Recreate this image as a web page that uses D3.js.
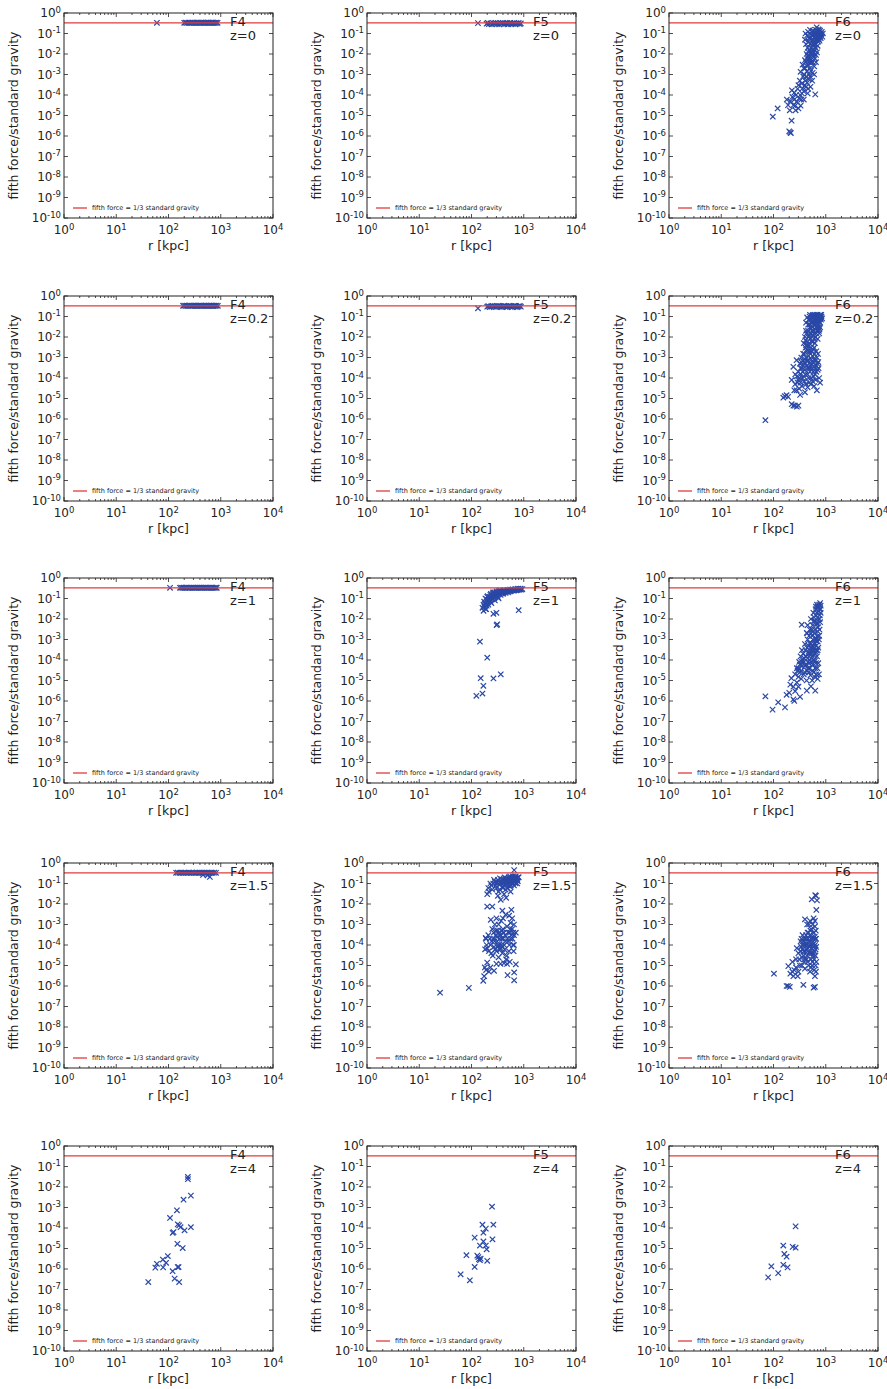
<!DOCTYPE html>
<html>
<head>
<meta charset="utf-8">
<script src="https://cdn.jsdelivr.net/npm/d3@7/dist/d3.min.js"></script>
<style>
  html, body { margin: 0; padding: 0; background: #fff; }
  svg { display: block; }
  text { font-family: "DejaVu Sans", sans-serif; fill: #222; }
</style>
</head>
<body>
<svg id="chart" width="887" height="1389"></svg>
<script>
// ---------------- DATA ----------------
const models = ["F4", "F5", "F6"];
const redshifts = ["0", "0.2", "1", "1.5", "4"];
const threshold = 1 / 3;
const thresholdLabel = "fifth force = 1/3 standard gravity";
const xLabel = "r [kpc]";
const yLabel = "fifth force/standard gravity";
const xTickValues = [1, 10, 100, 1000, 10000];
const xTickExponents = ["0", "1", "2", "3", "4"];
const yTickValues = [1e-10, 1e-9, 1e-8, 1e-7, 1e-6, 1e-5, 1e-4, 1e-3, 1e-2, 1e-1, 1];
const yTickExponents = ["-10", "-9", "-8", "-7", "-6", "-5", "-4", "-3", "-2", "-1", "0"];

// [r in kpc, fifth force / standard gravity]
const F4_z0 = [[60,0.333],[200,0.333],[212,0.34],[225,0.33],[240,0.335],[255,0.333],[270,0.33],[285,0.34],[300,0.333],[315,0.335],[330,0.33],[345,0.333],[360,0.34],[380,0.333],[400,0.33],[420,0.335],[440,0.333],[460,0.34],[480,0.333],[500,0.33],[525,0.335],[550,0.333],[575,0.34],[600,0.333],[630,0.33],[660,0.335],[690,0.333],[720,0.34],[750,0.333],[790,0.33],[830,0.335],[870,0.333]];
const F5_z0 = [[133,0.32],[195,0.3],[205,0.33],[215,0.29],[230,0.31],[245,0.28],[260,0.32],[275,0.3],[290,0.33],[305,0.29],[320,0.31],[340,0.28],[360,0.32],[380,0.3],[400,0.33],[420,0.29],[440,0.31],[460,0.3],[480,0.32],[500,0.28],[525,0.31],[550,0.33],[575,0.29],[600,0.31],[630,0.3],[660,0.32],[690,0.28],[720,0.31],[760,0.3],[800,0.33],[840,0.29],[880,0.31]];
const F6_z0 = [[97,8.7e-6],[120,2.2e-5],[200,1.7e-6],[209,1.5e-6],[215,1.4e-6],[222,5.6e-6],[180,6e-5],[190,3.2e-5],[205,1.8e-5],[225,1.7e-4],[240,3.2e-5],[250,6e-5],[265,1.8e-5],[280,4.7e-5],[270,1e-4],[300,2.2e-5],[325,1e-4],[340,6e-5],[345,3.6e-4],[360,2.1e-4],[380,1.5e-4],[420,2.5e-4],[450,1.2e-4],[510,2.5e-4],[630,1.07e-4],[330,1.35e-3],[370,8e-4],[380,2e-3],[400,5e-3],[420,7.7e-4],[440,1.5e-3],[460,3e-3],[480,1e-3],[500,2e-3],[530,4e-3],[560,1.2e-3],[430,0.01],[450,0.02],[460,0.006],[470,0.04],[480,0.015],[490,0.008],[500,0.03],[510,0.06],[520,0.012],[530,0.02],[540,0.045],[550,0.08],[560,0.025],[570,0.01],[580,0.05],[590,0.1],[600,0.035],[610,0.07],[620,0.015],[630,0.12],[640,0.06],[650,0.03],[660,0.09],[670,0.2],[680,0.05],[690,0.13],[700,0.08],[710,0.04],[720,0.1],[730,0.06],[740,0.15],[750,0.09],[760,0.12],[780,0.07],[800,0.1],[520,0.005],[580,0.008],[640,0.02],[700,0.025],[760,0.045],[550,0.015],[610,0.03],[660,0.05],[720,0.07],
  [400,0.05],[410,0.1],[420,0.03],[440,0.08],[460,0.12],[480,0.06],[500,0.15],[520,0.09],[540,0.12],[560,0.14],[580,0.03],[600,0.09],[620,0.11],[650,0.15],[680,0.1],[700,0.13],[720,0.16],[740,0.05],[760,0.08],[780,0.14],[800,0.06],[820,0.09],[840,0.12],[860,0.07],[880,0.1],[450,0.008],[470,0.012],[500,0.006],[530,0.009],[560,0.004],[590,0.012],[620,0.006],[650,0.009],[680,0.012],[400,0.002],[420,0.004],[440,0.0025],[480,0.004],[520,0.0015],[600,0.0025],[650,0.004],[360,0.003],[390,0.001],[410,5e-4],[440,4e-4],[470,6e-4],[500,8e-4],[550,5e-4],[600,1e-3],[300,3e-4],[320,5e-4],[290,2e-4],[250,1.3e-4],[230,8e-5],[210,5e-5],[260,3e-5],[310,7e-5],[350,1.2e-4],[400,3e-4],[460,2e-4],[380,6e-5],[330,3e-5]];

const F4_z02 = [[190,0.333],[200,0.34],[212,0.33],[225,0.335],[240,0.333],[255,0.34],[270,0.33],[285,0.333],[300,0.335],[315,0.333],[330,0.34],[345,0.33],[360,0.333],[380,0.335],[400,0.333],[420,0.34],[440,0.33],[460,0.333],[480,0.335],[500,0.333],[525,0.34],[550,0.33],[575,0.333],[600,0.335],[630,0.333],[660,0.34],[690,0.33],[720,0.333],[750,0.335],[790,0.333],[830,0.34],[880,0.333]];
const F5_z02 = [[133,0.25],[200,0.3],[210,0.32],[222,0.29],[235,0.31],[250,0.33],[265,0.3],[280,0.32],[295,0.29],[310,0.31],[325,0.33],[340,0.3],[360,0.32],[380,0.29],[400,0.31],[420,0.33],[440,0.3],[460,0.32],[480,0.29],[500,0.31],[525,0.33],[550,0.3],[575,0.32],[600,0.29],[630,0.31],[660,0.33],[690,0.3],[720,0.32],[760,0.29],[800,0.31],[840,0.33],[880,0.3]];
const F6_z02 = [[70,8.7e-7],[154,1.1e-5],[165,1.3e-5],[178,1.45e-5],[190,1.2e-5],[223,5.3e-6],[240,4.5e-6],[257,4.5e-6],[280,4e-6],[300,4.5e-6],[323,1.5e-5],[277,2.5e-5],[223,8e-5],[240,3.5e-4],[260,1.5e-4],[277,7.4e-4],[676,2.5e-5],[780,5.9e-5],[250,2.5e-5],[290,6e-5],[310,3e-5],[350,4e-5],[400,2e-5],[450,3.5e-5],[520,5e-5],[600,4e-5],[300,2e-4],[320,5e-4],[340,1e-3],[350,3e-4],[370,1.5e-3],[380,1.2e-4],[390,6e-4],[400,2.5e-4],[420,1e-3],[430,4e-4],[450,1.5e-4],[460,7e-4],[480,2e-3],[500,3e-4],[520,1e-4],[540,5e-4],[560,1.2e-3],[580,2e-4],[600,8e-4],[620,1.5e-4],[650,4e-4],[680,1e-3],[700,2.5e-4],[720,6e-4],[330,1.5e-4],[410,3e-3],[440,2.5e-3],[360,7e-4],[470,1e-4],[530,2e-3],[380,5e-3],[400,0.01],[420,0.02],[440,0.006],[460,0.04],[480,0.012],[500,0.03],[520,0.07],[540,0.02],[560,0.05],[580,0.1],[600,0.015],[620,0.08],[640,0.04],[660,0.12],[680,0.06],[700,0.1],[720,0.03],[740,0.08],[760,0.11],[780,0.05],[800,0.09],[450,0.004],[510,0.008],[570,0.006],[630,0.01],[690,0.02],[750,0.015],[490,0.1],[550,0.11],[610,0.12],
  [420,0.05],[440,0.09],[460,0.02],[470,0.07],[490,0.04],[500,0.12],[510,0.015],[530,0.05],[540,0.09],[560,0.03],[570,0.12],[590,0.06],[600,0.04],[620,0.025],[630,0.11],[650,0.07],[660,0.03],[670,0.09],[690,0.05],[700,0.12],[710,0.04],[730,0.1],[750,0.06],[770,0.09],[790,0.12],[810,0.07],[830,0.1],[850,0.08],[820,0.12],[780,0.03],[740,0.02],[660,0.015],[600,0.008],[540,0.006],[480,0.005],[560,0.012],[620,0.005],[700,0.008],[760,0.025],[520,0.025],[430,0.015],[410,0.007],[470,0.01],[580,0.018],[640,0.06],[680,0.1],[720,0.07],[800,0.1],
  [310,1e-4],[330,3e-4],[340,6e-4],[360,2e-4],[370,4e-4],[390,1.5e-3],[400,8e-4],[410,1.5e-4],[430,2e-3],[440,7e-4],[460,3e-4],[470,1.2e-3],[490,5e-4],[500,2e-4],[510,1.5e-3],[530,8e-4],[550,3e-4],[570,2.5e-3],[580,6e-4],[590,1.2e-4],[610,1.5e-3],[630,3e-4],[640,7e-4],[660,2e-4],[690,5e-4],[710,1.5e-3],[730,3e-4],[750,1e-4],[420,4e-3],[470,3.5e-3],[520,3e-3],[600,3e-3],[660,2e-3],
  [260,5e-5],[280,1.2e-4],[300,8e-5],[330,6e-5],[360,1e-4],[390,7e-5],[420,5e-5],[480,6e-5],[560,7e-5],[640,8e-5]];

const F4_z1 = [[107,0.333],[166,0.333],[175,0.34],[185,0.33],[197,0.335],[210,0.333],[224,0.34],[238,0.33],[252,0.333],[267,0.335],[283,0.333],[300,0.34],[318,0.33],[336,0.333],[355,0.335],[375,0.333],[395,0.34],[415,0.33],[440,0.333],[465,0.335],[490,0.333],[520,0.34],[550,0.33],[580,0.333],[615,0.335],[650,0.333],[690,0.34],[730,0.33],[770,0.333],[810,0.335],[840,0.333]];
const F5_z1 = [[124,1.8e-6],[162,2.3e-6],[169,5.5e-6],[150,1.3e-5],[263,1.26e-5],[363,2e-5],[200,1.3e-4],[145,7.8e-4],[302,5e-3],[310,5.5e-3],[263,0.018],[300,0.02],[187,0.03],[800,0.027],[162,0.035],[170,0.05],[180,0.04],[190,0.06],[200,0.08],[210,0.05],[220,0.1],[230,0.07],[240,0.12],[250,0.09],[260,0.15],[270,0.11],[280,0.13],[300,0.16],[320,0.12],[340,0.18],[360,0.15],[380,0.2],[400,0.17],[420,0.22],[450,0.19],[480,0.23],[500,0.2],[530,0.25],[560,0.22],[600,0.26],[640,0.24],[680,0.27],[720,0.25],[760,0.28],[800,0.26],[850,0.28],[900,0.27],[200,0.12],[230,0.15],[260,0.2],[300,0.22],[350,0.25],[190,0.03],[240,0.06],[280,0.08],[330,0.1],
  [175,0.07],[185,0.1],[195,0.09],[205,0.13],[215,0.08],[225,0.12],[235,0.17],[245,0.1],[255,0.18],[265,0.13],[275,0.2],[290,0.15],[310,0.2],[330,0.16],[350,0.21],[370,0.18],[390,0.23],[410,0.19],[430,0.25],[460,0.22],[490,0.26],[520,0.22],[550,0.27],[580,0.24],[620,0.28],[660,0.25],[700,0.29],[740,0.26],[780,0.3],[820,0.28],[870,0.3],[940,0.29],[180,0.055],[195,0.045],[210,0.065],[225,0.09],[250,0.13],[270,0.17],[300,0.19],[330,0.23],[360,0.21],[170,0.025]];
const F6_z1 = [[70,1.7e-6],[96,3.8e-7],[123,8.6e-7],[166,4.9e-7],[178,2e-6],[200,2.5e-6],[240,1.2e-6],[250,1e-6],[260,3e-6],[322,1.6e-6],[433,3.2e-6],[630,3.2e-6],[520,5.2e-6],[220,1.3e-5],[210,6.3e-6],[240,5e-6],[280,8e-6],[300,5e-6],[347,5.3e-3],[433,2.1e-3],[260,2e-5],[280,4e-5],[300,1.5e-5],[320,6e-5],[340,3e-5],[360,1e-4],[380,2e-5],[400,5e-5],[420,1.5e-4],[440,3e-5],[460,8e-5],[480,2e-4],[500,4e-5],[520,1.2e-4],[540,3e-4],[560,6e-5],[580,1.8e-4],[600,4e-4],[620,9e-5],[640,2.5e-4],[660,5e-4],[680,1.5e-4],[700,3e-4],[720,7e-5],[740,2e-5],[380,8e-5],[430,1e-5],[470,2.5e-5],[510,1.8e-5],[550,1e-5],[590,2.5e-5],[630,4e-5],[350,3e-4],[400,6e-4],[450,1e-3],[500,7e-4],[550,1.5e-3],[450,5e-3],[500,3e-3],[520,0.01],[560,5e-3],[580,0.02],[600,2e-3],[620,0.008],[640,0.03],[660,0.015],[680,0.05],[700,0.006],[720,0.025],[740,0.04],[760,0.01],[780,0.06],[800,0.02],[650,1e-3],[700,2.5e-3],[750,1.5e-3],[600,6e-4],[700,8e-4],
  [290,3e-5],[310,8e-5],[330,1.5e-4],[350,5e-5],[370,2e-4],[390,1.2e-4],[410,3e-4],[420,6e-5],[440,4e-4],[450,1.2e-4],[470,5e-4],[480,7e-5],[490,3e-4],[510,6e-4],[520,2e-4],[530,8e-5],[550,4e-4],[560,1.5e-4],[570,1e-3],[590,3e-4],[600,1e-4],[610,7e-4],[630,2e-4],[640,1.2e-3],[650,7e-5],[660,3e-4],[670,8e-4],[690,4e-5],[700,1.5e-3],[720,4e-4],[740,1e-3],[760,3e-3],[780,7e-3],[790,0.03],[770,0.015],[730,0.01],[710,0.004],[680,0.02],[660,0.006],[620,0.003],[590,0.008],[550,0.003],[520,0.002],[480,0.0015],[440,2e-3],[600,0.012],[650,0.04],[700,0.04],[750,0.05],[800,0.045],[760,0.03],[460,4e-5],[400,2.5e-5],[340,1.2e-5],[320,2.5e-5],[560,3e-5],[610,1.5e-5],[660,2e-5],[700,1.2e-5],[530,4e-4],[470,2.5e-4],[410,1.5e-4],[350,8e-5],[300,4e-5]];

const F4_z15 = [[140,0.333],[150,0.34],[162,0.33],[175,0.335],[188,0.333],[202,0.34],[217,0.33],[233,0.333],[250,0.335],[268,0.333],[287,0.34],[307,0.33],[328,0.333],[350,0.335],[373,0.333],[397,0.34],[422,0.33],[450,0.333],[480,0.335],[510,0.333],[545,0.34],[580,0.33],[620,0.333],[660,0.335],[700,0.333],[750,0.34],[810,0.333],[457,0.26],[620,0.21],[560,0.25]];
const F5_z15 = [[25,4.7e-7],[89,8.1e-7],[168,1.8e-6],[175,3e-6],[180,8e-6],[190,6e-6],[200,1.4e-5],[215,5e-6],[230,8e-6],[270,5.5e-6],[490,3.4e-6],[655,1.9e-6],[655,4.6e-6],[705,1.15e-5],[182,6.2e-5],[187,2.2e-4],[234,1.7e-3],[200,7.5e-3],[250,7.5e-3],[363,0.016],[390,4.7e-3],[525,2.7e-3],[580,5.2e-3],[560,1.2e-3],[705,4e-4],[190,2e-4],[200,7e-5],[210,3e-4],[230,1e-4],[240,4e-5],[250,6e-4],[260,2e-4],[270,8e-5],[280,1e-3],[290,3e-4],[300,5e-5],[310,1.5e-4],[320,5e-4],[330,2.5e-5],[340,1e-4],[350,3e-4],[360,7e-5],[370,1.5e-3],[380,2e-4],[390,4e-5],[400,6e-4],[420,1e-4],[440,3e-4],[460,2e-5],[480,8e-4],[500,1.5e-4],[520,5e-5],[540,4e-4],[560,2e-4],[600,6e-4],[620,1e-4],[640,5e-5],[650,3e-4],[360,1.2e-5],[420,1.3e-5],[480,1.2e-5],[540,1.5e-5],[300,1.2e-5],[200,0.03],[210,0.06],[230,0.1],[250,0.05],[270,0.15],[290,0.08],[310,0.12],[330,0.04],[350,0.18],[370,0.1],[390,0.07],[410,0.15],[430,0.2],[450,0.09],[470,0.13],[490,0.06],[510,0.17],[530,0.11],[550,0.22],[570,0.08],[590,0.14],[610,0.19],[630,0.1],[650,0.16],[670,0.12],[690,0.2],[710,0.15],[740,0.18],[770,0.13],[800,0.2],[655,0.45],[320,0.025],[420,0.03],[460,0.02],[560,0.04],
  [215,0.04],[240,0.08],[260,0.1],[280,0.12],[300,0.06],[320,0.15],[340,0.09],[360,0.12],[380,0.16],[400,0.1],[420,0.12],[440,0.15],[460,0.18],[480,0.1],[500,0.13],[520,0.2],[540,0.15],[560,0.12],[580,0.18],[600,0.15],[620,0.22],[640,0.13],[660,0.19],[680,0.15],[700,0.22],[720,0.18],[750,0.14],[780,0.2],[300,0.1],[350,0.05],[400,0.06],[450,0.05],[500,0.08],[550,0.07],[600,0.1],[650,0.08],[700,0.1],[750,0.1],
  [195,1e-4],[215,5e-5],[225,2e-4],[245,1.5e-4],[255,3e-5],[265,4e-4],[275,1.5e-4],[285,6e-5],[295,5e-4],[305,2.5e-4],[315,8e-5],[325,1e-4],[335,4e-4],[345,2e-4],[355,6e-5],[365,3e-4],[375,1e-4],[385,5e-4],[395,8e-5],[405,2e-4],[415,4e-4],[430,6e-5],[450,1.5e-4],[470,3e-5],[490,2e-4],[510,4e-4],[530,1e-4],[550,6e-4],[580,3e-4],[610,2e-4],[630,4e-4],[650,1e-4],[300,2e-3],[330,1e-3],[400,2e-3],[450,3e-3],[600,2e-3],[650,1e-3]];
const F6_z15 = [[102,4e-6],[178,1e-6],[190,1e-6],[205,9e-7],[373,1.15e-6],[585,8.3e-7],[620,9e-7],[400,1.8e-3],[585,2e-3],[660,5.1e-3],[540,0.017],[630,0.027],[680,0.015],[650,0.025],[192,9.3e-6],[210,4e-6],[230,1.5e-5],[250,6e-6],[270,2e-5],[290,3e-6],[300,4e-5],[320,1e-5],[340,8e-5],[350,2.5e-5],[370,1.5e-4],[380,5e-5],[400,2e-5],[410,1e-4],[420,3e-4],[440,6e-5],[450,1.5e-5],[460,2e-4],[480,4e-5],[500,1e-4],[510,5e-4],[520,2e-5],[540,7e-5],[560,2.5e-4],[580,4e-5],[600,1.2e-4],[620,8e-4],[640,6e-5],[650,2e-4],[660,1.5e-5],[600,6e-6],[500,5e-6],[400,7e-6],[550,1e-5],[450,4e-4],[360,3e-4],[330,1.5e-4],[280,7e-5],[620,3e-6],[480,1e-3],
  [330,5e-5],[345,2e-4],[355,1e-4],[365,6e-5],[375,3e-5],[385,2e-4],[395,1e-4],[405,5e-5],[415,2e-4],[425,1.2e-4],[435,3e-5],[445,1e-4],[455,7e-5],[465,4e-4],[475,1.5e-4],[485,8e-5],[495,3e-4],[505,4e-5],[515,1.5e-4],[525,6e-4],[535,2e-4],[545,4e-5],[555,1e-4],[565,3e-5],[575,2e-4],[585,8e-5],[595,4e-4],[605,5e-5],[615,2.5e-4],[625,1e-4],[635,3e-5],[645,5e-4],[655,8e-5],[600,2e-5],[560,1.5e-5],[520,8e-6],[470,1e-5],[430,2e-5],[390,1.5e-5],[350,1e-5],[310,2e-5],[270,8e-6],[240,3e-6],[230,5e-6],[300,5e-6],[640,1e-5],[650,5e-6],[620,1.5e-3],[640,2e-4],[560,1e-3],[500,1.5e-3],[440,1e-3]];

const F4_z4 = [[41,2.3e-7],[56,1.17e-6],[60,1.8e-6],[78,2.9e-6],[79,1.2e-6],[90,2e-6],[97,4.3e-6],[120,7.8e-7],[131,3.4e-7],[160,2.3e-7],[150,1.25e-6],[156,1.25e-6],[148,1.7e-5],[187,1.05e-5],[125,6.3e-5],[120,5.8e-5],[160,1.35e-4],[150,1.5e-4],[170,1.1e-4],[203,7.7e-5],[268,1.1e-4],[107,3.1e-4],[145,7.3e-4],[194,2.4e-3],[268,3.8e-3],[235,0.031],[235,0.024]];
const F5_z4 = [[62,5.5e-7],[93,2.8e-7],[80,4.7e-6],[115,1.26e-6],[129,4.5e-6],[135,3.8e-6],[145,2.7e-6],[150,3.2e-6],[200,2.5e-6],[247,1.1e-3],[262,1.45e-4],[162,1.45e-4],[188,9.3e-5],[169,5.9e-5],[115,3.4e-5],[169,2.2e-5],[252,2.8e-5],[145,1.4e-5],[188,1.4e-5],[195,9.1e-6],[139,3e-6]];
const F6_z4 = [[79,3.9e-7],[91,1.35e-6],[123,6.3e-7],[154,1.6e-6],[186,1.2e-6],[161,5.4e-6],[178,4e-6],[154,1.4e-5],[233,1.2e-5],[265,1.1e-5],[265,1.2e-4]];

const panelData = [
  [F4_z0, F5_z0, F6_z0],
  [F4_z02, F5_z02, F6_z02],
  [F4_z1, F5_z1, F6_z1],
  [F4_z15, F5_z15, F6_z15],
  [F4_z4, F5_z4, F6_z4]
];

// ---------------- LAYOUT ----------------
const colLeft = [64, 367, 669];
const rowTop = [13, 296, 578, 863, 1146];
const pw = 209, ph = 205;
const markerColor = "#2a48a6";
const lineColor = "#e23b3b";

const svg = d3.select("#chart");
svg.append("rect").attr("width", 887).attr("height", 1389).attr("fill", "#fff");

const x = d3.scaleLog().domain([1, 1e4]).range([0, pw]);
const y = d3.scaleLog().domain([1e-10, 1]).range([ph, 0]);

const xMinor = [];
for (let d = 0; d < 4; d++) for (let k = 2; k <= 9; k++) xMinor.push(k * Math.pow(10, d));

function supLabel(sel, base, exp) {
  sel.append("tspan").text(base);
  sel.append("tspan").attr("font-size", 8.5).attr("dy", "-0.5em").text(exp);
}

panelData.forEach((row, ri) => {
  row.forEach((pts, ci) => {
    const g = svg.append("g").attr("transform", `translate(${colLeft[ci]},${rowTop[ri]})`);
    const clipId = `clip-${ri}-${ci}`;
    g.append("clipPath").attr("id", clipId)
      .append("rect").attr("width", pw).attr("height", ph);

    // ticks (inward, all four sides)
    const tk = g.append("g").attr("stroke", "#222").attr("stroke-width", 0.8);
    xTickValues.forEach(v => {
      tk.append("line").attr("x1", x(v)).attr("x2", x(v)).attr("y1", ph).attr("y2", ph - 4);
      tk.append("line").attr("x1", x(v)).attr("x2", x(v)).attr("y1", 0).attr("y2", 4);
    });
    xMinor.forEach(v => {
      tk.append("line").attr("x1", x(v)).attr("x2", x(v)).attr("y1", ph).attr("y2", ph - 2);
      tk.append("line").attr("x1", x(v)).attr("x2", x(v)).attr("y1", 0).attr("y2", 2);
    });
    yTickValues.forEach(v => {
      tk.append("line").attr("x1", 0).attr("x2", 4).attr("y1", y(v)).attr("y2", y(v));
      tk.append("line").attr("x1", pw).attr("x2", pw - 4).attr("y1", y(v)).attr("y2", y(v));
    });

    // points
    g.append("g").attr("clip-path", `url(#${clipId})`)
      .selectAll("path").data(pts).join("path")
      .attr("transform", d => `translate(${x(d[0])},${y(d[1])})`)
      .attr("d", "M-2.7,-2.7L2.7,2.7M-2.7,2.7L2.7,-2.7")
      .attr("stroke", markerColor).attr("stroke-width", 1.2).attr("fill", "none");

    // threshold line
    g.append("line").attr("x1", 0).attr("x2", pw)
      .attr("y1", y(threshold)).attr("y2", y(threshold))
      .attr("stroke", lineColor).attr("stroke-width", 1.3);

    // frame
    g.append("rect").attr("width", pw).attr("height", ph)
      .attr("fill", "none").attr("stroke", "#222").attr("stroke-width", 1);

    // tick labels
    xTickValues.forEach((v, i) => {
      const t = g.append("text").attr("x", x(v)).attr("y", ph + 16)
        .attr("text-anchor", "middle").attr("font-size", 12);
      supLabel(t, "10", xTickExponents[i]);
    });
    yTickValues.forEach((v, i) => {
      const t = g.append("text").attr("x", -3).attr("y", y(v) + 4)
        .attr("text-anchor", "end").attr("font-size", 12);
      supLabel(t, "10", yTickExponents[i]);
    });

    // axis labels
    g.append("text").attr("x", pw / 2).attr("y", ph + 32)
      .attr("text-anchor", "middle").attr("font-size", 12.5).text(xLabel);
    g.append("text").attr("transform", `translate(-46,${ph / 2}) rotate(-90)`)
      .attr("text-anchor", "middle").attr("font-size", 12.5).text(yLabel);

    // panel annotations
    g.append("text").attr("x", 166).attr("y", 13).attr("font-size", 13).text(models[ci]);
    g.append("text").attr("x", 166).attr("y", 26.5).attr("font-size", 13).text("z=" + redshifts[ri]);

    // legend
    g.append("line").attr("x1", 9).attr("x2", 23).attr("y1", ph - 10).attr("y2", ph - 10)
      .attr("stroke", lineColor).attr("stroke-width", 1.3);
    g.append("text").attr("x", 28).attr("y", ph - 7.8).attr("font-size", 6.5)
      .attr("fill", "#333").text(thresholdLabel);
  });
});
</script>
</body>
</html>
